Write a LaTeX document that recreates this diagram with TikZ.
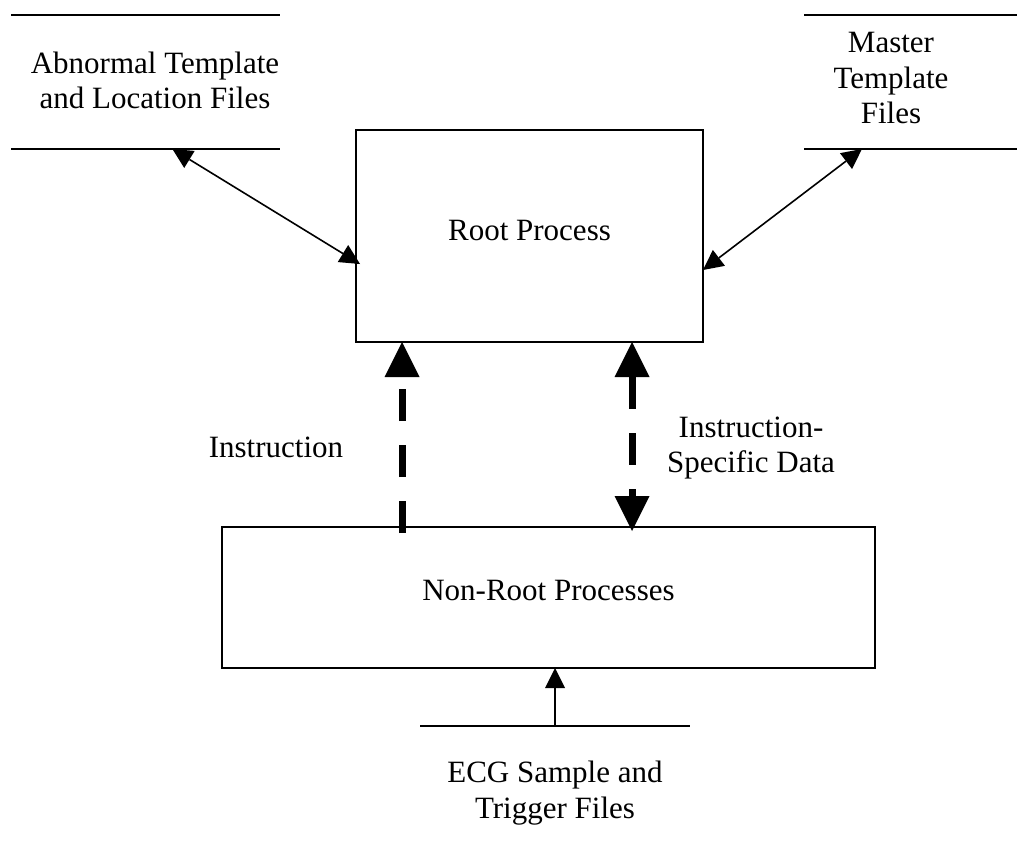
\documentclass[tikz,border=0pt]{standalone}
\usepackage{fontspec}
\setmainfont{Liberation Serif}
\usetikzlibrary{arrows.meta,calc}

\begin{document}
\begin{tikzpicture}[x=1pt,y=-1pt,
  txt/.style={font=\fontsize{31}{35.5}\selectfont},
  lbl/.style={txt, align=center, inner sep=0pt},
  procbox/.style={draw, line width=1.6pt, txt, inner sep=0pt, outer sep=0pt,
                  text height=20.5pt},
  storeline/.style={line width=1.8pt},
  smalltip/.tip={Triangle[width=20pt,length=20pt,line width=0pt]},
  bigtip/.tip={Triangle[width=35pt,length=35pt,line width=0pt]},
  thinarrow/.style={line width=1.6pt},
  msgarrow/.style={line width=7pt, dash pattern=on 32pt off 24pt}
]
\useasboundingbox (0,0) rectangle (1021,859);

% processes
\node[procbox, minimum width=347pt, minimum height=212pt, text depth=12.5pt]
  (root) at (529.5,236) {Root Process};
\node[procbox, minimum width=653pt, minimum height=141pt, text depth=15.5pt]
  (nonroot) at (548.5,597.5) {Non-Root Processes};

% data stores (open-ended, two lines)
\draw[storeline] (11,15) -- (280,15);
\draw[storeline] (11,149) -- coordinate[pos=0.60] (absport) (280,149);
\node[lbl] (absfiles) at (155,80.5) {Abnormal Template\\and Location Files};

\draw[storeline] (804,15) -- (1017,15);
\draw[storeline] (804,149) -- coordinate[pos=0.272] (mastport) (1017,149);
\node[lbl] (master) at (891,78.5) {Master\\Template\\Files};

\draw[storeline] (420,726) -- coordinate[pos=0.5] (ecgport) (690,726);
\node[lbl] (ecg) at (555,793) {ECG Sample and\\Trigger Files};

% file access
\coordinate (rootW) at ($(root.west)+(4,28)$);
\coordinate (rootE) at ($(root.east)+(0,34)$);
\draw[thinarrow, smalltip-smalltip] (absport) -- (rootW);
\draw[thinarrow, smalltip-smalltip] (mastport) -- (rootE);
\draw[thinarrow, -smalltip] (ecgport) -- (ecgport |- nonroot.south);

% messages between processes
\coordinate (insFoot) at ($(nonroot.north west)+(180,6)$);
\coordinate (dataFoot) at ($(nonroot.north west)+(410,4)$);
\draw[msgarrow, -bigtip] (insFoot) -- (insFoot |- root.south);
\draw[msgarrow, bigtip-bigtip] (dataFoot |- root.south) -- (dataFoot);

\node[txt, anchor=base, inner sep=0pt] (instr) at (276,457) {Instruction};
\node[lbl] (isdata) at (751,448) {Instruction-\\Specific Data};
\end{tikzpicture}
\end{document}
